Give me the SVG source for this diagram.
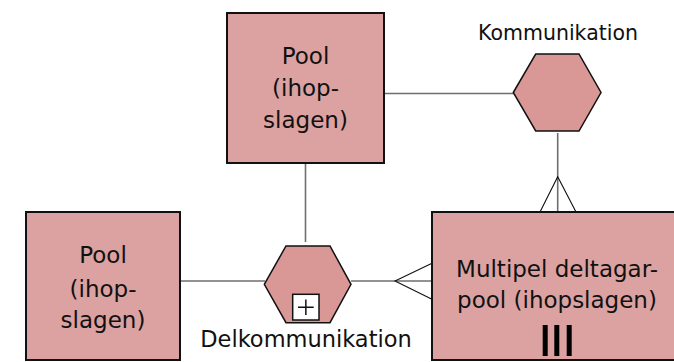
<svg xmlns="http://www.w3.org/2000/svg" width="674" height="362" viewBox="0 0 674 362">
<style>
.box{fill:#DCA2A1;stroke:#111;stroke-width:2}
.hex{fill:#D99795;stroke:#111;stroke-width:1.5}
.conn{stroke:#6E6E6E;stroke-width:1.6;fill:none}
.crow{stroke:#111;stroke-width:1.1;fill:none}
.t{font-family:"DejaVu Sans",sans-serif;fill:#111;text-anchor:middle}
</style>
<rect width="674" height="362" fill="#fff"/>
<g id="connectors">
<line class="conn" x1="384" y1="93.5" x2="514" y2="93.5"/>
<line class="conn" x1="305.5" y1="163" x2="305.5" y2="242"/>
<line class="conn" x1="180" y1="281" x2="265" y2="281"/>
<line class="conn" x1="351" y1="281" x2="432" y2="281"/>
<path class="crow" d="M432,263.3 L395,281 L432,299.3"/>
<line class="conn" x1="557.7" y1="133" x2="557.7" y2="212"/>
<path class="crow" d="M540,212 L557.7,176.7 L576,212"/>
</g>
<g id="pool-top">
<rect class="box" x="227" y="13" width="157" height="150"/>
<text class="t" font-size="23" x="305.5" y="63.5">Pool</text>
<text class="t" font-size="23" x="305.5" y="95.5">(ihop-</text>
<text class="t" font-size="23" x="305.5" y="127.5">slagen)</text>
</g>
<g id="kommunikation">
<polygon class="hex" points="513.3,92.5 535.7,54 579,54 601,92.5 579,131 535.7,131"/>
<text class="t" font-size="20.5" x="558" y="40">Kommunikation</text>
</g>
<g id="pool-left">
<rect class="box" x="26" y="212" width="154" height="148"/>
<text class="t" font-size="23" x="103" y="263.3">Pool</text>
<text class="t" font-size="23" x="103" y="296.7">(ihop-</text>
<text class="t" font-size="23" x="103" y="327.7">slagen)</text>
</g>
<g id="delkommunikation">
<polygon class="hex" points="264.3,284.3 286,246 330,246 351,284.3 330,322.7 286,322.7"/>
<rect x="292.7" y="294.3" width="26.3" height="25.7" fill="#fff" stroke="#111" stroke-width="1.5"/>
<path d="M298,307.2 H313.7 M305.85,299.5 V315" stroke="#111" stroke-width="1.5" fill="none"/>
<text class="t" font-size="22.5" x="306" y="347.3">Delkommunikation</text>
</g>
<g id="multipel-pool">
<rect class="box" x="432" y="212" width="250" height="148"/>
<text class="t" font-size="23" x="557" y="277.3">Multipel deltagar-</text>
<text class="t" font-size="23" x="557" y="307.7">pool (ihopslagen)</text>
<rect x="542.7" y="325" width="5" height="31" fill="#000"/>
<rect x="554.3" y="325" width="5" height="31" fill="#000"/>
<rect x="566.7" y="325" width="5" height="31" fill="#000"/>
</g>
</svg>
